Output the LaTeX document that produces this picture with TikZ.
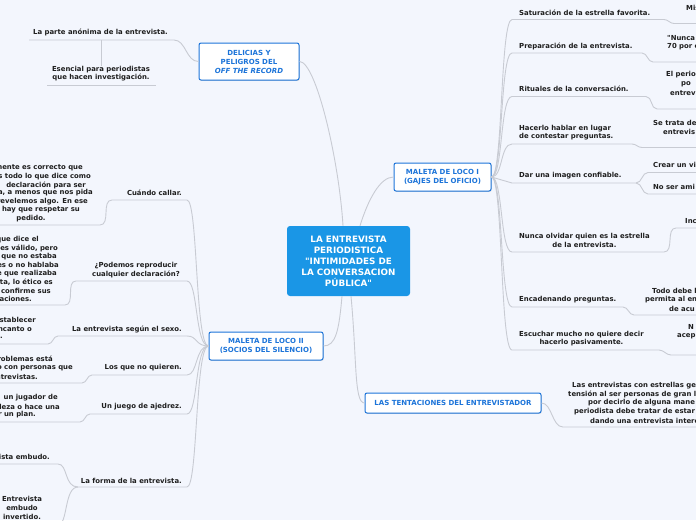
\documentclass[tikz,border=0pt]{standalone}
\usepackage{fontspec}
\setmainfont{DejaVu Sans}[Ligatures=TeXOff]
\usetikzlibrary{shadows}
\definecolor{bg}{HTML}{F3F6FD}
\definecolor{ln}{HTML}{C8CBD3}
\definecolor{topic}{HTML}{1C74D9}
\definecolor{central}{HTML}{1A96E6}
\definecolor{txt}{HTML}{1E1E1E}
\tikzset{
  conn/.style={draw=ln, line width=0.9pt},
  sub/.style={font=\fontsize{6.9}{8.6}\selectfont\bfseries, text=txt, inner sep=0pt, align=center},
  fragw/.style={sub, anchor=west},
  frage/.style={sub, anchor=east},
  topicbox/.style={draw=topic, line width=1pt, fill=white, rounded corners=2pt, text=topic,
     font=\fontsize{7}{9}\selectfont\bfseries, align=center,
     drop shadow={shadow xshift=0.6pt, shadow yshift=-0.9pt, opacity=0.25}},
  centralbox/.style={fill=central, rounded corners=3pt, text=white,
     font=\fontsize{8.8}{11}\selectfont\bfseries, align=center},
}
\begin{document}
\begin{tikzpicture}[x=1pt,y=-1pt]
\fill[bg] (0,0) rectangle (696,520);
\useasboundingbox (0,0) rectangle (696,520);

% central and main topics
\node[centralbox, minimum width=123pt, minimum height=70pt] (c) at (348.5,261)
  {LA ENTREVISTA\\PERIODISTICA\\"INTIMIDADES DE\\LA CONVERSACION\\PÚBLICA"};
\node[topicbox, minimum width=100pt, minimum height=37pt] (t1) at (249,61.5)
  {DELICIAS Y\\PELIGROS DEL\\\textit{OFF THE RECORD}};
\node[topicbox, minimum width=97pt, minimum height=28pt] (t2) at (442.5,177)
  {MALETA DE LOCO I\\(GAJES DEL OFICIO)};
\node[topicbox, minimum width=114pt, minimum height=28pt] (t3) at (266,346)
  {MALETA DE LOCO II\\(SOCIOS DEL SILENCIO)};
\node[topicbox, minimum width=176pt, minimum height=20pt] (t4) at (453,403)
  {LAS TENTACIONES DEL ENTREVISTADOR};

\draw[conn] ([xshift=-5.5pt]c.north) .. controls (339,160) and (316,61.5) .. (t1.east);
\draw[conn] ([xshift=11.5pt]c.north) .. controls (368,200) and (380,177) .. (t2.west);
\draw[conn] ([xshift=-6.5pt]c.south) .. controls (339,330) and (336,346) .. (t3.east);
\draw[conn] ([xshift=2.5pt]c.south) .. controls (357,360) and (354,403) .. (t4.west);

% DELICIAS Y PELIGROS
\node[sub] (a1) at (100.5,32.5) {La parte anónima de la entrevista.};
\coordinate (a1r) at (174,40); \coordinate (a1l) at (29,40); \coordinate (a1m) at (101,40);
\draw[conn] (t1.west) .. controls (186,61.5) and (186,40) .. (a1r) -- (a1l);
\node[sub] (a2) at (101,73.5) {Esencial para periodistas\\que hacen investigación.};
\draw[conn] (a1m) -- (a2.north);
\coordinate (a2l) at (47,85); \coordinate (a2r) at (156,85);
\draw[conn] (a2l) -- (a2r);

% MALETA DE LOCO I
\node[fragw] (r1) at (519,12.5) {Saturación de la estrella favorita.};
\coordinate (r1a) at (512,19.5); \coordinate (r1b) at (664,19.5);
\coordinate (r1c) at (674,23.5); \coordinate (r1d) at (696,23.5);
\draw[conn] (t2.east) .. controls (503,177) and (500,19.5) .. (r1a) -- (r1b) to[out=0,in=180] (r1c) -- (r1d);
\node[fragw] (r1x) at (686,8) {Mis};

\node[fragw] (r2) at (519,46) {Preparación de la entrevista.};
\coordinate (r2a) at (512,53); \coordinate (r2b) at (642,53);
\coordinate (r2c) at (653,62); \coordinate (r2d) at (696,62);
\draw[conn] (t2.east) .. controls (503,177) and (500,53) .. (r2a) -- (r2b) to[out=0,in=180] (r2c) -- (r2d);
\node[fragw] (r2x) at (667,38) {"Nunca};
\node[fragw] (r2y) at (667,46.5) {70 por c};

\node[fragw] (r3) at (519,89) {Rituales de la conversación.};
\coordinate (r3a) at (512,96.5); \coordinate (r3b) at (646,96.5);
\coordinate (r3c) at (657,109); \coordinate (r3d) at (696,109);
\draw[conn] (t2.east) .. controls (503,177) and (500,96.5) .. (r3a) -- (r3b) to[out=0,in=180] (r3c) -- (r3d);
\node[fragw] (r3x) at (666,75) {El perio};
\node[fragw] (r3y) at (681,84) {po};
\node[fragw] (r3z) at (670,93) {entrev};

\node[fragw, align=left] (r4) at (519,132.5) {Hacerlo hablar en lugar\\de contestar preguntas.};
\coordinate (r4a) at (512,144); \coordinate (r4b) at (632,144);
\coordinate (r4c) at (642,147.5); \coordinate (r4d) at (696,147.5);
\draw[conn] (t2.east) .. controls (503,177) and (500,144) .. (r4a) -- (r4b) to[out=0,in=180] (r4c) -- (r4d);
\node[fragw] (r4x) at (653,123) {Se trata de};
\node[fragw] (r4y) at (663,132) {entrevis};

\node[fragw] (r5) at (519,176) {Dar una imagen confiable.};
\coordinate (r5a) at (512,183); \coordinate (r5b) at (636,183);
\coordinate (r5c) at (648,172.5); \coordinate (r5d) at (696,172.5);
\coordinate (r5e) at (648,194); \coordinate (r5f) at (696,194);
\draw[conn] (t2.east) -- (r5a) -- (r5b) to[out=0,in=180] (r5c) -- (r5d);
\draw[conn] (r5b) to[out=0,in=180] (r5e) -- (r5f);
\node[fragw] (r5x) at (653,165) {Crear un vi};
\node[fragw] (r5y) at (653,186.5) {No ser ami};

\node[fragw] (r6) at (519,240.5) {Nunca olvidar quien es la estrella\\de la entrevista.};
\coordinate (r6a) at (512,252); \coordinate (r6b) at (664,252);
\coordinate (r6c) at (676,228); \coordinate (r6d) at (696,228);
\draw[conn] (t2.east) .. controls (503,177) and (500,252) .. (r6a) -- (r6b) to[out=0,in=180] (r6c) -- (r6d);
\node[fragw] (r6x) at (685,221) {Inc};

\node[fragw] (r7) at (519,300) {Encadenando preguntas.};
\coordinate (r7a) at (512,307); \coordinate (r7b) at (623,307);
\coordinate (r7c) at (634,315); \coordinate (r7d) at (696,315);
\draw[conn] (t2.east) .. controls (503,177) and (500,307) .. (r7a) -- (r7b) to[out=0,in=180] (r7c) -- (r7d);
\node[fragw] (r7x) at (652,291) {Todo debe l};
\node[fragw] (r7y) at (645,300) {permita al en};
\node[fragw] (r7z) at (669,308.5) {de acu};

\node[fragw] (r8) at (519,338.5) {Escuchar mucho no quiere decir\\hacerlo pasivamente.};
\coordinate (r8a) at (512,350); \coordinate (r8b) at (659,350);
\coordinate (r8c) at (671,355); \coordinate (r8d) at (696,355);
\draw[conn] (t2.east) .. controls (503,177) and (500,350) .. (r8a) -- (r8b) to[out=0,in=180] (r8c) -- (r8d);
\node[fragw] (r8x) at (688,327) {N};
\node[fragw] (r8y) at (677,336) {acep};

% LAS TENTACIONES
\coordinate (s1a) at (563,427); \coordinate (s1b) at (696,427);
\draw[conn] (t4.east) .. controls (552,403) and (552,427) .. (s1a) -- (s1b);
\node[fragw] (s1) at (572,385.5) {Las entrevistas con estrellas ge};
\node[fragw] (s2) at (568,394) {tensión al ser personas de gran l};
\node[fragw] (s3) at (588,403) {por decirlo de alguna mane};
\node[fragw] (s4) at (574,411.5) {periodista debe tratar de estar};
\node[fragw] (s5) at (590,420.5) {dando una entrevista intere};

% MALETA DE LOCO II
\node[frage] (l1) at (182,192.5) {Cuándo callar.};
\coordinate (l1a) at (187,200); \coordinate (l1b) at (112,200);
\coordinate (l1c) at (100,225); \coordinate (l1d) at (0,225);
\draw[conn] (t3.west) .. controls (195,346) and (198,200) .. (l1a) -- (l1b) to[out=180,in=0] (l1c) -- (l1d);
\node[frage] (l1x1) at (83,168) {mente es correcto que};
\node[frage] (l1x2) at (91,176.5) {s todo lo que dice como};
\node[frage] (l1x3) at (86,185) {declaración para ser};
\node[frage] (l1x4) at (93,193) {a, a menos que nos pida};
\node[frage] (l1x5) at (88,201.5) {revelemos algo. En ese};
\node[frage] (l1x6) at (80,210) {hay que respetar su};
\node[sub] (l1x7) at (31,218.5) {pedido.};

\node[frage] (l2) at (180,270) {¿Podemos reproducir\\cualquier declaración?};
\coordinate (l2a) at (187,281); \coordinate (l2b) at (76,281);
\coordinate (l2c) at (65,305); \coordinate (l2d) at (0,305);
\draw[conn] (t3.west) .. controls (195,346) and (198,281) .. (l2a) -- (l2b) to[out=180,in=0] (l2c) -- (l2d);
\node[frage] (l2x1) at (39,239.5) {que dice el};
\node[frage] (l2x2) at (58,248) {es válido, pero};
\node[frage] (l2x3) at (57,256.5) {que no estaba};
\node[frage] (l2x4) at (59,265) {es o no hablaba};
\node[frage] (l2x5) at (57,273.5) {e que realizaba};
\node[frage] (l2x6) at (53,282) {ta, lo ético es};
\node[frage] (l2x7) at (51,290.5) {confirme sus};
\node[frage] (l2x8) at (32,299) {aciones.};

\node[frage] (l3) at (182,329) {La entrevista según el sexo.};
\coordinate (l3a) at (187,336); \coordinate (l3b) at (58,336);
\coordinate (l3c) at (48,344); \coordinate (l3d) at (0,344);
\draw[conn] (t3.west) .. controls (195,346) and (198,336) .. (l3a) -- (l3b) to[out=180,in=0] (l3c) -- (l3d);
\node[frage] (l3x1) at (36,320) {stablecer};
\node[frage] (l3x2) at (32,329) {ncanto o};
\node[frage] (l3x3) at (3,337.5) {.};

\node[frage] (l4) at (182,367.5) {Los que no quieren.};
\coordinate (l4a) at (187,375); \coordinate (l4b) at (92,375);
\coordinate (l4c) at (82,383); \coordinate (l4d) at (0,383);
\draw[conn] (t3.west) .. controls (195,346) and (198,375) .. (l4a) -- (l4b) to[out=180,in=0] (l4c) -- (l4d);
\node[frage] (l4x1) at (53,359) {roblemas está};
\node[frage] (l4x2) at (73,368) {o con personas que};
\node[frage] (l4x3) at (38,376.5) {ntrevistas.};

\node[frage] (l5) at (182,407) {Un juego de ajedrez.};
\coordinate (l5a) at (187,414); \coordinate (l5b) at (90,414);
\coordinate (l5c) at (80,422); \coordinate (l5d) at (0,422);
\draw[conn] (t3.west) .. controls (195,346) and (198,414) .. (l5a) -- (l5b) to[out=180,in=0] (l5c) -- (l5d);
\node[frage] (l5x1) at (58,398) {un jugador de};
\node[frage] (l5x2) at (60,407) {leza o hace una};
\node[frage] (l5x3) at (36,415) {r un plan.};

\node[frage] (l6) at (182,480.5) {La forma de la entrevista.};
\coordinate (l6a) at (187,487); \coordinate (l6b) at (78,487);
\coordinate (l6c) at (58,464); \coordinate (l6d) at (0,464);
\coordinate (l6e) at (58,525); \coordinate (l6f) at (0,525);
\draw[conn] (t3.west) .. controls (195,346) and (198,487) .. (l6a) -- (l6b) .. controls (64,487) and (68,464) .. (l6c) -- (l6d);
\draw[conn] (l6b) .. controls (64,487) and (68,525) .. (l6e) -- (l6f);
\node[frage] (l6x1) at (50,457) {ista embudo.};
\node[sub] (l6x2) at (22,508) {Entrevista\\embudo\\invertido.};
\end{tikzpicture}
\end{document}
